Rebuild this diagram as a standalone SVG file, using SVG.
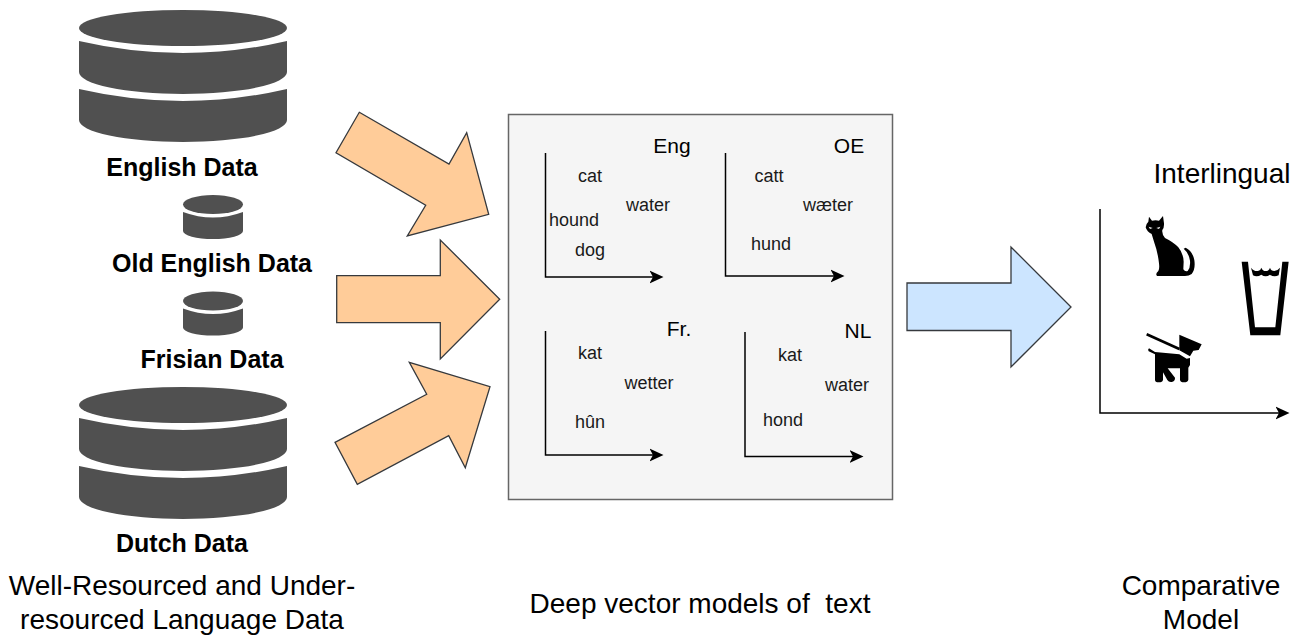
<svg xmlns="http://www.w3.org/2000/svg" width="1300" height="635" viewBox="0 0 1300 635">
<style>
text{font-family:"Liberation Sans",Arial,sans-serif;fill:#000;text-anchor:middle}
.b{font-size:25px;font-weight:bold}
.l{font-size:28px}
.h{font-size:21px}
.w{font-size:18px;fill:#1a1a1a}
.db{fill:#505050}
.in{fill:#ffcc99;stroke:#36393d;stroke-width:1.3}
.out{fill:#cce5ff;stroke:#36393d;stroke-width:1.3}
.ax{fill:none;stroke:#000;stroke-width:1.5;marker-end:url(#a)}
</style>
<defs>
<marker id="a" markerUnits="userSpaceOnUse" markerWidth="14" markerHeight="14" viewBox="0 0 14 14" refX="3.5" refY="7" orient="auto"><path d="M14 7 L0 0.5 L3.5 7 L0 13.5Z" fill="#000"/></marker>
<g id="bigdb">
<ellipse class="db" cx="183" cy="28" rx="104" ry="18"/>
<path class="db" d="M79 41 Q183 65 287 41 V72 A104 22 0 0 1 79 72Z"/>
<path class="db" d="M79 89 Q183 113 287 89 V120 A104 22 0 0 1 79 120Z"/>
</g>
<g id="smalldb">
<ellipse class="db" cx="213" cy="204.5" rx="30" ry="9.5"/>
<path class="db" d="M183 212 Q213 223 243 212 V231 A30 8 0 0 1 183 231Z"/>
</g>
</defs>
<g id="node-english"><use href="#bigdb"/><text class="b" x="182" y="176">English Data</text></g>
<g id="node-oe"><use href="#smalldb"/><text class="b" x="212" y="272">Old English Data</text></g>
<g id="node-frisian"><use href="#smalldb" y="96.5"/><text class="b" x="212" y="368">Frisian Data</text></g>
<g id="node-dutch"><use href="#bigdb" y="377"/><text class="b" x="182" y="552">Dutch Data</text></g>
<g id="label-data"><text class="l" x="182" y="595">Well-Resourced and Under-</text><text class="l" x="182" y="629">resourced Language Data</text></g>
<g id="connectors">
<polygon class="in" points="359.3,112.3 449,164 466.7,132.7 488.7,214.3 407.3,236 425.7,205.3 336,152.7"/>
<polygon class="in" points="336.7,275.7 440.3,275.7 440.3,240 499.7,299.3 440.3,359 440.3,322.7 336.7,322.7"/>
<polygon class="in" points="335,442.3 426.7,394.3 409.3,362.3 490,386.7 465.3,467.7 448.7,435.7 357.3,484.3"/>
<polygon class="out" points="907,283 1011,283 1011,247 1071,307 1011,367 1011,330.5 907,330.5"/>
</g>
<g id="node-models">
<rect x="508.5" y="114.5" width="384" height="385" fill="#f5f5f5" stroke="#666" stroke-width="1.5"/>
<path class="ax" d="M545.5 153 V277 H653"/>
<path class="ax" d="M725.5 153 V276 H834"/>
<path class="ax" d="M545.5 331 V455 H653"/>
<path class="ax" d="M745 332 V456.5 H853"/>
<text class="h" x="672" y="153">Eng</text><text class="w" x="590" y="182">cat</text><text class="w" x="648" y="211">water</text><text class="w" x="574" y="226">hound</text><text class="w" x="590" y="256">dog</text>
<text class="h" x="849" y="153">OE</text><text class="w" x="769" y="182">catt</text><text class="w" x="828" y="211">wæter</text><text class="w" x="771" y="250">hund</text>
<text class="h" x="679" y="336">Fr.</text><text class="w" x="590" y="359">kat</text><text class="w" x="649" y="389">wetter</text><text class="w" x="590" y="428">hûn</text>
<text class="h" x="858" y="338">NL</text><text class="w" x="790" y="361">kat</text><text class="w" x="847" y="391">water</text><text class="w" x="783" y="426">hond</text>
</g>
<g id="label-models"><text class="l" x="700" y="613" xml:space="preserve">Deep vector models of  text</text></g>
<g id="node-interlingual">
<text class="l" x="1222" y="183">Interlingual</text>
<path class="ax" d="M1100 209 V413 H1279"/>
<g id="cat" transform="translate(1135 210) scale(.3333)">
<path d="M42 20 L51 32 Q62 29 72 32 L84 18 L87 40 Q88 52 82 60 Q80 72 90 84 Q115 96 130 112 Q145 130 146 155 L145 178 Q150 186 158 183 Q167 172 165 152 Q161 128 146 116 L152 113 Q172 122 178 150 Q182 178 170 192 Q162 198 150 198 L66 198 Q60 192 70 183 Q74 178 72 160 Q68 125 58 98 L50 72 Q36 66 32 52 Q34 40 40 35Z" fill="#000"/>
<path d="M41 50 L53 54 L45 57Z M76 50 L64 54 L72 57Z" fill="#eee"/>
</g>
<g id="dog" transform="translate(1140 325) scale(.3333)">
<path d="M20 28 L118 72" stroke="#000" stroke-width="8" fill="none"/>
<path d="M118 29 L185 58 L176 75 L160 77 L150 94 L118 76Z M27 70 L45 81 L118 88 L140 101 L150 99 V120 L145 128 V164 Q143 172 132 172 Q121 172 120 164 V130 H83 L105 158 Q106 168 95 171 Q86 172 82 165 L69 142 V164 Q68 172 56 172 Q45 172 45 164 V88 L26 79 Q22 74 27 70Z" fill="#000"/>
</g>
<g id="glass" transform="translate(1120 200) scale(.3333)">
<path d="M365 185 H384 L405 382 H466 L487 185 H506 L481 406 H391Z" fill="#000"/>
<path d="M393 203 Q402 215 414 213 Q422 212 424 203 Q428 213 437 213 Q447 213 450 203 Q453 213 463 213 Q473 212 480 203 L476 226 Q462 233 450 224 Q437 233 424 224 Q411 233 399 226Z" fill="#000"/>
</g>
</g>
<g id="label-comparative"><text class="l" x="1201" y="595">Comparative</text><text class="l" x="1201" y="629">Model</text></g>
</svg>
